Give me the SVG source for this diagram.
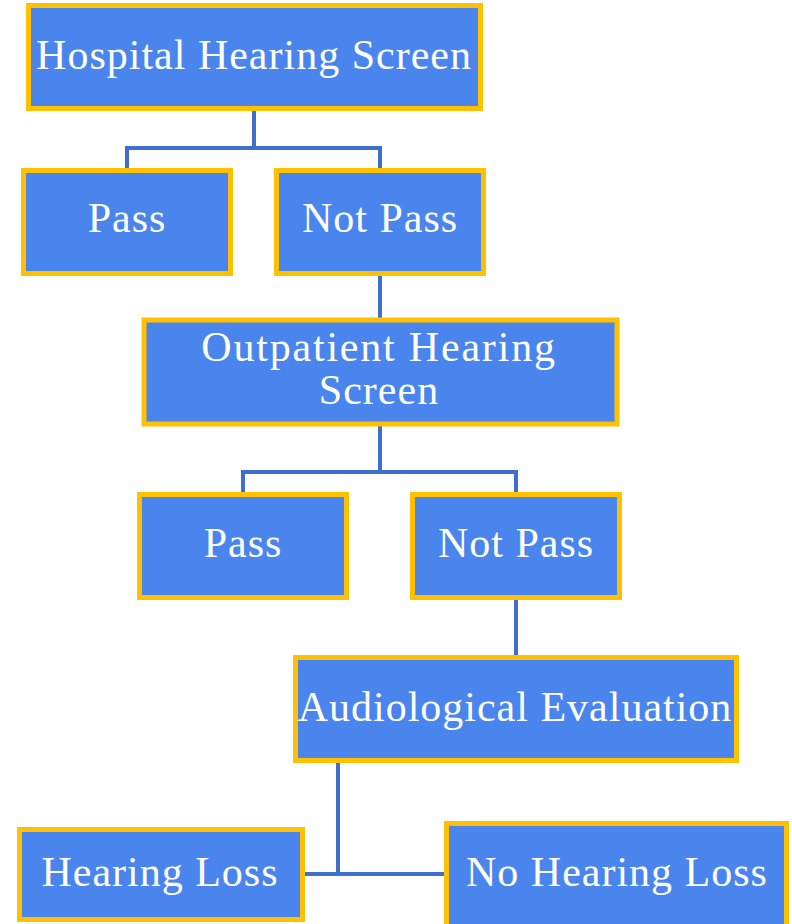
<svg xmlns="http://www.w3.org/2000/svg" width="792" height="924" viewBox="0 0 792 924">
<style>
.box{fill:#4A85EE;stroke:#FFC000;stroke-width:5}
.lbl{font-family:"Liberation Serif","Times New Roman",serif;font-size:42px;fill:#FFFFFF;text-anchor:middle;letter-spacing:1px}
.con{fill:none;stroke:#3D70CE;stroke-width:4}
</style>
<rect width="792" height="924" fill="#FFFFFF"/>
<g id="connectors">
<path class="con" d="M254,110 V148 M127,148 H380 M127,146 V170 M380,146 V170"/>
<path class="con" d="M380,275 V320"/>
<path class="con" d="M380,424 V472 M243,472 H516 M243,470 V494 M516,470 V494"/>
<path class="con" d="M516,599 V657"/>
<path class="con" d="M338,762 V874 M304,874 H446"/>
</g>
<g id="n1"><rect class="box" x="28.5" y="5.5" width="452" height="103"/><text class="lbl" x="254" y="69">Hospital Hearing Screen</text></g>
<g id="n2"><rect class="box" x="23.5" y="170.5" width="207" height="103"/><text class="lbl" x="127" y="232">Pass</text></g>
<g id="n3"><rect class="box" x="276.5" y="170.5" width="207" height="103"/><text class="lbl" x="380" y="232">Not Pass</text></g>
<g id="n4"><rect class="box" x="144" y="320" width="473" height="104"/><text class="lbl" x="379" y="361" style="letter-spacing:1.8px">Outpatient Hearing</text><text class="lbl" x="379" y="404">Screen</text></g>
<g id="n5"><rect class="box" x="139.5" y="494.5" width="207" height="103"/><text class="lbl" x="243" y="557">Pass</text></g>
<g id="n6"><rect class="box" x="412.5" y="494.5" width="207" height="103"/><text class="lbl" x="516" y="557">Not Pass</text></g>
<g id="n7"><rect class="box" x="295.5" y="657.5" width="441" height="103"/><text class="lbl" x="515" y="721">Audiological Evaluation</text></g>
<g id="n8"><rect class="box" x="19.5" y="829.5" width="283" height="90"/><text class="lbl" x="160" y="886">Hearing Loss</text></g>
<g id="n9"><rect class="box" x="446.5" y="823.5" width="340" height="110"/><text class="lbl" x="617" y="886">No Hearing Loss</text></g>
</svg>
